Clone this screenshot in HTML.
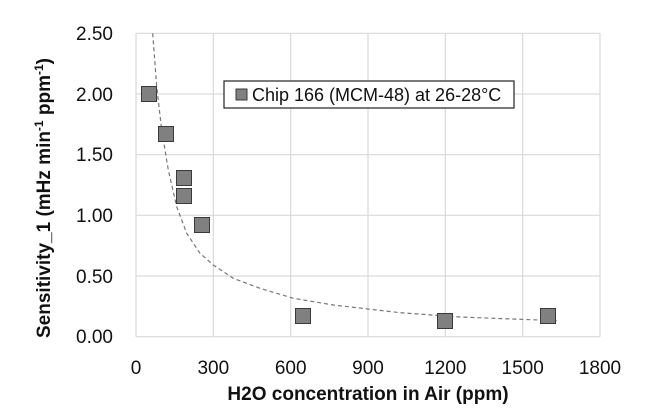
<!DOCTYPE html>
<html><head><meta charset="utf-8"><style>
html,body{margin:0;padding:0;background:#fff;}
svg{display:block;font-family:"Liberation Sans",sans-serif;}
</style></head><body>
<svg width="671" height="408" viewBox="0 0 671 408" xmlns="http://www.w3.org/2000/svg">
<rect width="671" height="408" fill="#fff"/>
<g stroke="#d9d9d9" stroke-width="1.2">
<line x1="136" y1="33.3" x2="600" y2="33.3"/>
<line x1="136" y1="94" x2="600" y2="94"/>
<line x1="136" y1="154.7" x2="600" y2="154.7"/>
<line x1="136" y1="215.3" x2="600" y2="215.3"/>
<line x1="136" y1="276" x2="600" y2="276"/>
<line x1="213.3" y1="33.3" x2="213.3" y2="336.7"/>
<line x1="290.7" y1="33.3" x2="290.7" y2="336.7"/>
<line x1="368" y1="33.3" x2="368" y2="336.7"/>
<line x1="445.3" y1="33.3" x2="445.3" y2="336.7"/>
<line x1="522.7" y1="33.3" x2="522.7" y2="336.7"/>
<line x1="600" y1="33.3" x2="600" y2="336.7"/>
<line x1="136" y1="33.3" x2="136" y2="336.7"/>
<line x1="136" y1="336.7" x2="600" y2="336.7"/>
</g>
<g fill="#111" font-size="19" text-anchor="end">
<text x="113" y="40">2.50</text>
<text x="113" y="101">2.00</text>
<text x="113" y="161">1.50</text>
<text x="113" y="222">1.00</text>
<text x="113" y="283">0.50</text>
<text x="113" y="343">0.00</text>
</g>
<g fill="#111" font-size="19" text-anchor="middle">
<text x="136" y="374">0</text>
<text x="213.3" y="374">300</text>
<text x="290.7" y="374">600</text>
<text x="368" y="374">900</text>
<text x="445.3" y="374">1200</text>
<text x="522.7" y="374">1500</text>
<text x="600" y="374">1800</text>
</g>
<text x="368" y="400" font-size="19" font-weight="bold" text-anchor="middle" fill="#111">H2O concentration in Air (ppm)</text>
<text transform="translate(50,198) rotate(-90)" font-size="19" font-weight="bold" text-anchor="middle" fill="#111">Sensitivity_1 (mHz min<tspan font-size="12" dy="-7">-1</tspan><tspan dy="7"> ppm</tspan><tspan font-size="12" dy="-7">-1</tspan><tspan dy="7">)</tspan></text>
<path d="M152.7,33.3 L156.7,86.7 L161.7,130 L168.3,170 L176.7,206.7 L186.7,233.3 L200,253.3 L213.3,265 L233.3,278.3 L260,288.3 L293.3,298.3 L333.3,305 L400,312.7 L460,317 L556.7,320.7" fill="none" stroke="#777" stroke-width="1.2" stroke-dasharray="4,3"/>
<g fill="#808080" stroke="#3a3a3a" stroke-width="1">
<rect x="141.5" y="86.5" width="15" height="15"/>
<rect x="158.5" y="126.5" width="15" height="15"/>
<rect x="176.5" y="170.5" width="15" height="15"/>
<rect x="176.5" y="188.5" width="15" height="15"/>
<rect x="194.5" y="217.5" width="15" height="15"/>
<rect x="295.5" y="308.5" width="15" height="15"/>
<rect x="437.5" y="313.5" width="15" height="15"/>
<rect x="540.5" y="308.5" width="15" height="15"/>
</g>
<rect x="224" y="81" width="290" height="27" fill="#fff" stroke="#222" stroke-width="1.2"/>
<rect x="236" y="89" width="11" height="11" fill="#808080" stroke="#3a3a3a"/>
<text x="252" y="101" font-size="18" fill="#111">Chip 166 (MCM-48) at 26-28°C</text>
</svg>
</body></html>
